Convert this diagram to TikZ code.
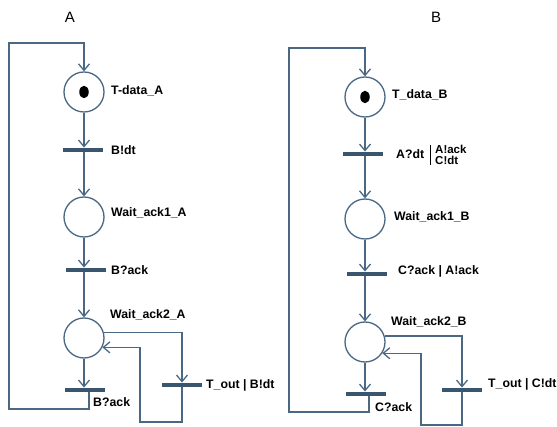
\documentclass[tikz,border=0pt]{standalone}
\usepackage{fontspec}
\setmainfont{Liberation Sans}
\usetikzlibrary{arrows.meta,positioning,shapes.geometric}
\definecolor{netline}{RGB}{74,104,132}
\definecolor{netbar}{RGB}{58,86,110}

\begin{document}
\begin{tikzpicture}[x=1pt,y=-1pt,>={Straight Barb[length=6.5pt,width=11pt]},font=\bfseries\fontsize{12.3}{14}\selectfont]
\tikzstyle{pl}=[draw=netline,circle,minimum size=40pt,inner sep=0pt,line width=1.3pt]
\tikzstyle{tok}=[fill=black,ellipse,minimum width=9.5pt,minimum height=12.5pt,inner sep=0pt]
\tikzstyle{tr}=[fill=netbar,minimum width=40pt,minimum height=4.5pt,inner sep=0pt]
\tikzstyle{lb}=[anchor=west,inner sep=0pt]
\tikzstyle{arc}=[draw=netline,line width=1.3pt]
\tikzstyle{ttl}=[font=\fontsize{15}{17}\selectfont]
\useasboundingbox (0,0) rectangle (557,427);
% net A
\node[ttl] (titleA) at (70,17) {A};
\node[pl] (tdA) at (84,92) {}; \node[tok] (tokA) at (tdA) {}; \node[lb] at (111,91) {T-data\_A};
\node[tr] (t1A) at (83,150) {}; \node[lb] at (111,150) {B!dt};
\node[pl] (w1A) at (84,217) {}; \node[lb] at (111,213) {Wait\_ack1\_A};
\node[tr] (t2A) at (86,270) {}; \node[lb] at (111,270) {B?ack};
\node[pl] (w2A) at (84,338) {}; \node[lb] at (110,315) {Wait\_ack2\_A};
\node[tr] (t3A) at (85,390) {}; \node[lb] at (93,402) {B?ack};
\node[tr] (t4A) at (182,385) {}; \node[lb] at (206,385) {T\_out | B!dt};
\coordinate (loopA) at (9,409); \coordinate (topA) at (84,43); \coordinate (retA) at (140,422);
\draw[arc,->] (tdA.south) -- (tdA.south |- t1A.north);
\draw[arc,->] (t1A.south -| w1A) -- (w1A.north);
\draw[arc,->] (w1A.south) -- (w1A.south |- t2A.north);
\draw[arc,->] (t2A.south -| w2A) -- (w2A.north);
\draw[arc,->] (w2A.south) -- (w2A.south |- t3A.north);
\draw[arc,->] ([xshift=4pt]t3A.south) |- (loopA) |- (topA) -- (tdA.north);
\draw[arc,->] (w2A.15) -| (t4A.north);
\draw[arc,->] (t4A.south) |- (retA) |- (w2A.-27);
% net B
\node[ttl] (titleB) at (436,17) {B};
\node[pl] (tdB) at (365,97) {}; \node[tok] (tokB) at (tdB) {}; \node[lb] at (392,95) {T\_data\_B};
\node[tr] (t1B) at (363,154) {}; \node[lb] at (396,154) {A?dt};
\node[lb,align=left,font=\bfseries\fontsize{11.5}{10.5}\selectfont] (ackB) at (435,155) {A!ack\\C!dt};
\draw[line width=0.9pt] ([xshift=-5pt]ackB.north west) -- ([xshift=-5pt]ackB.south west);
\node[pl] (w1B) at (365,219) {}; \node[lb] at (394,217) {Wait\_ack1\_B};
\node[tr] (t2B) at (367,274) {}; \node[lb] at (398,271) {C?ack | A!ack};
\node[pl] (w2B) at (365,342) {}; \node[lb] at (391,322) {Wait\_ack2\_B};
\node[tr] (t3B) at (366,394) {}; \node[lb] at (375,407) {C?ack};
\node[tr] (t4B) at (462,390) {}; \node[lb] at (488,384) {T\_out | C!dt};
\coordinate (loopB) at (289,412); \coordinate (topB) at (365,48); \coordinate (retB) at (421,425);
\draw[arc,->] (tdB.south) -- (tdB.south |- t1B.north);
\draw[arc,->] (t1B.south -| w1B) -- (w1B.north);
\draw[arc,->] (w1B.south) -- (w1B.south |- t2B.north);
\draw[arc,->] (t2B.south -| w2B) -- (w2B.north);
\draw[arc,->] (w2B.south) -- (w2B.south |- t3B.north);
\draw[arc,->] ([xshift=3pt]t3B.south) |- (loopB) |- (topB) -- (tdB.north);
\draw[arc,->] (w2B.17) -| (t4B.north);
\draw[arc,->] (t4B.south) |- (retB) |- (w2B.-33);
\end{tikzpicture}
\end{document}
